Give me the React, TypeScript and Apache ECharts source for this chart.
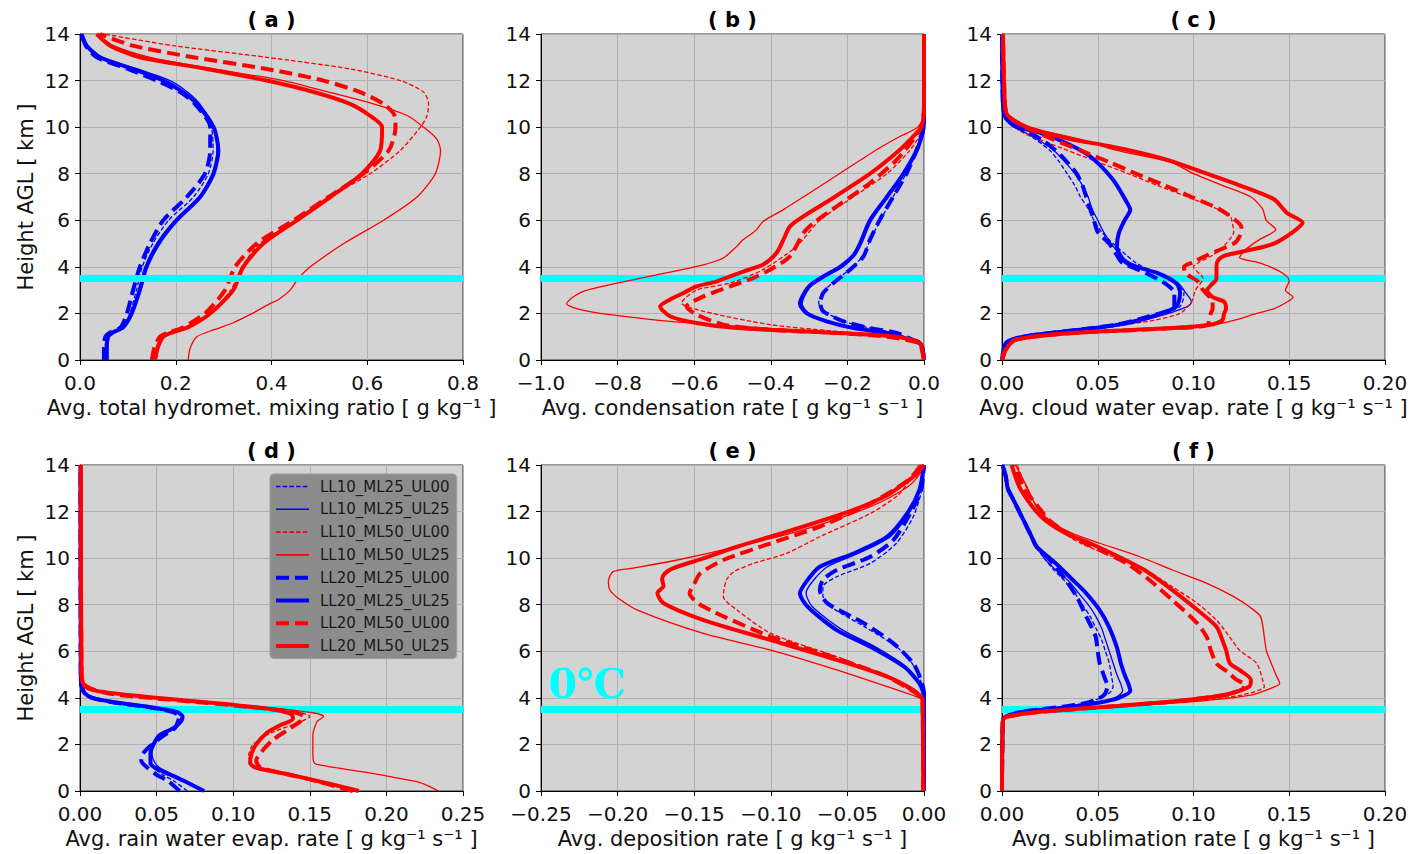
import React, { useEffect, useRef } from 'react';
import * as echarts from 'echarts';

// Each profile is a list of [height AGL (km), value] pairs, ordered by height.
type Profile = [number, number][];

const RUNS = [
  'LL10_ML25_UL00',
  'LL10_ML25_UL25',
  'LL10_ML50_UL00',
  'LL10_ML50_UL25',
  'LL20_ML25_UL00',
  'LL20_ML25_UL25',
  'LL20_ML50_UL00',
  'LL20_ML50_UL25',
];

const FREEZING_LEVEL_KM = 3.5;
const HEIGHT_TICKS = ['0', '2', '4', '6', '8', '10', '12', '14'];

const TICKS_A = ['0.0', '0.2', '0.4', '0.6', '0.8'];
const TICKS_B = ['\u22121.0', '\u22120.8', '\u22120.6', '\u22120.4', '\u22120.2', '0.0'];
const TICKS_C = ['0.00', '0.05', '0.10', '0.15', '0.20'];
const TICKS_D = ['0.00', '0.05', '0.10', '0.15', '0.20', '0.25'];
const TICKS_E = ['\u22120.25', '\u22120.20', '\u22120.15', '\u22120.10', '\u22120.05', '0.00'];
const TICKS_F = ['0.00', '0.05', '0.10', '0.15', '0.20'];

// (a) total hydrometeor mixing ratio, g/kg
const panelA: Profile[] = [
  [[0, 0.052], [1, 0.055], [1.2, 0.068], [1.4, 0.088], [2, 0.104], [3, 0.118], [4, 0.13], [5, 0.152], [6, 0.185], [7, 0.237], [8, 0.268], [9, 0.278], [10, 0.274], [11, 0.245], [11.5, 0.218], [12, 0.17], [12.5, 0.11], [13, 0.04], [13.5, 0.012], [14, 0.003]],
  [[0, 0.054], [1, 0.057], [1.2, 0.07], [1.4, 0.09], [2, 0.107], [3, 0.122], [4, 0.136], [5, 0.16], [6, 0.198], [7, 0.248], [8, 0.276], [9, 0.286], [10, 0.28], [11, 0.25], [11.5, 0.225], [12, 0.188], [12.5, 0.12], [13, 0.045], [13.5, 0.015], [14, 0.003]],
  [[0, 0.152], [0.5, 0.158], [1, 0.17], [1.2, 0.19], [1.4, 0.22], [2, 0.27], [3, 0.315], [4, 0.338], [5, 0.375], [6, 0.452], [7, 0.522], [8, 0.606], [9, 0.669], [10, 0.711], [10.5, 0.725], [11, 0.728], [11.5, 0.718], [12, 0.669], [12.5, 0.564], [13, 0.39], [13.5, 0.195], [14, 0.049]],
  [[0, 0.226], [0.5, 0.23], [1, 0.244], [1.3, 0.28], [1.6, 0.32], [2, 0.36], [2.4, 0.395], [2.6, 0.415], [3, 0.439], [3.5, 0.456], [4, 0.481], [5, 0.551], [6, 0.634], [7, 0.704], [8, 0.742], [9, 0.753], [9.5, 0.745], [10, 0.718], [10.5, 0.683], [11, 0.613], [11.5, 0.52], [12, 0.425], [12.5, 0.279], [13, 0.146], [13.5, 0.07], [14, 0.035]],
  [[0, 0.05], [0.5, 0.05], [1, 0.053], [1.2, 0.065], [1.4, 0.085], [2, 0.098], [3, 0.111], [4, 0.125], [5, 0.146], [6, 0.174], [7, 0.223], [8, 0.261], [9, 0.272], [10, 0.272], [11, 0.24], [11.5, 0.21], [12, 0.16], [12.5, 0.1], [13, 0.035], [13.5, 0.012], [14, 0.003]],
  [[0, 0.056], [0.5, 0.056], [1, 0.059], [1.2, 0.07], [1.4, 0.09], [2, 0.108], [3, 0.125], [4, 0.139], [5, 0.164], [6, 0.202], [7, 0.251], [8, 0.279], [9, 0.289], [10, 0.279], [11, 0.244], [11.5, 0.215], [12, 0.174], [12.5, 0.11], [13, 0.042], [13.5, 0.014], [14, 0.003]],
  [[0, 0.15], [0.5, 0.155], [1, 0.167], [1.2, 0.188], [1.4, 0.215], [2, 0.261], [3, 0.303], [4, 0.324], [5, 0.369], [6, 0.446], [7, 0.519], [8, 0.592], [9, 0.645], [10, 0.659], [10.5, 0.657], [11, 0.634], [11.5, 0.585], [12, 0.509], [12.5, 0.39], [13, 0.237], [13.5, 0.11], [14, 0.042]],
  [[0, 0.157], [0.5, 0.162], [1, 0.174], [1.2, 0.195], [1.4, 0.225], [2, 0.272], [3, 0.32], [4, 0.341], [5, 0.383], [6, 0.453], [7, 0.523], [8, 0.589], [9, 0.627], [10, 0.631], [10.5, 0.605], [11, 0.564], [11.5, 0.49], [12, 0.39], [12.5, 0.265], [13, 0.125], [13.5, 0.063], [14, 0.035]],
];

// (b) condensation rate, g/kg/s
const panelB: Profile[] = [
  [[0, 0], [0.5, -0.004], [0.75, -0.012], [0.9, -0.03], [1.0, -0.05], [1.16, -0.075], [1.37, -0.14], [1.66, -0.21], [2.09, -0.26], [2.45, -0.275], [2.88, -0.265], [3.3, -0.24], [3.88, -0.195], [4.45, -0.16], [5.17, -0.14], [6.03, -0.113], [7.03, -0.08], [8.03, -0.046], [9.03, -0.019], [9.75, -0.004], [10.2, 0], [14, 0]],
  [[0, 0], [0.5, -0.004], [0.75, -0.012], [0.9, -0.035], [1.15, -0.095], [1.37, -0.18], [1.66, -0.25], [2.0, -0.3], [2.4, -0.318], [2.8, -0.31], [3.2, -0.293], [3.6, -0.255], [4, -0.212], [4.5, -0.18], [5, -0.163], [6, -0.137], [7, -0.095], [8, -0.053], [9, -0.019], [9.75, -0.004], [10.3, 0], [14, 0]],
  [[0, 0], [0.5, -0.006], [0.75, -0.015], [0.9, -0.04], [1.0, -0.08], [1.23, -0.228], [1.52, -0.402], [2.09, -0.576], [2.45, -0.633], [3.0, -0.594], [3.3, -0.507], [3.88, -0.42], [4.88, -0.333], [6.0, -0.272], [7.0, -0.185], [8.0, -0.097], [9.0, -0.037], [9.75, -0.008], [10.3, -0.002], [11, 0], [14, 0]],
  [[0, 0], [0.5, -0.006], [0.73, -0.015], [0.95, -0.054], [1.09, -0.141], [1.27, -0.315], [1.45, -0.489], [1.66, -0.663], [1.95, -0.82], [2.2, -0.905], [2.42, -0.933], [2.66, -0.92], [2.95, -0.889], [3.3, -0.802], [3.66, -0.698], [4.09, -0.576], [4.38, -0.524], [4.88, -0.489], [5.17, -0.472], [5.38, -0.454], [5.6, -0.437], [5.95, -0.42], [6.46, -0.367], [7.74, -0.245], [9.03, -0.124], [9.6, -0.063], [9.96, -0.019], [10.3, -0.004], [11, 0], [14, 0]],
  [[0, 0], [0.5, -0.004], [0.75, -0.012], [0.87, -0.03], [1.16, -0.071], [1.37, -0.141], [1.66, -0.21], [2.09, -0.263], [2.45, -0.271], [2.88, -0.263], [3.3, -0.237], [3.88, -0.193], [4.45, -0.158], [5.17, -0.141], [6.03, -0.115], [7.03, -0.08], [8.03, -0.045], [9.03, -0.019], [9.75, -0.004], [10.2, 0], [14, 0]],
  [[0, 0], [0.5, -0.004], [0.73, -0.012], [0.87, -0.037], [1.16, -0.097], [1.37, -0.184], [1.66, -0.254], [2.0, -0.306], [2.42, -0.324], [2.8, -0.315], [3.2, -0.298], [3.6, -0.262], [4, -0.219], [4.5, -0.184], [5, -0.167], [6, -0.141], [7, -0.097], [8, -0.054], [9, -0.019], [9.75, -0.004], [10.2, 0], [14, 0]],
  [[0, 0], [0.5, -0.006], [0.73, -0.012], [1.0, -0.097], [1.16, -0.228], [1.3, -0.402], [1.52, -0.524], [1.95, -0.594], [2.3, -0.62], [2.73, -0.576], [3.16, -0.507], [3.52, -0.446], [3.88, -0.402], [4.45, -0.35], [5.45, -0.315], [5.88, -0.289], [6.6, -0.228], [7.6, -0.141], [8.6, -0.071], [9.46, -0.028], [9.9, -0.01], [10.4, -0.002], [11, 0], [14, 0]],
  [[0, 0], [0.5, -0.006], [0.73, -0.01], [0.95, -0.054], [1.09, -0.141], [1.23, -0.315], [1.37, -0.489], [1.59, -0.594], [1.88, -0.663], [2.3, -0.689], [2.6, -0.663], [2.88, -0.628], [3.16, -0.594], [3.38, -0.541], [3.8, -0.472], [4.1, -0.42], [4.6, -0.385], [5.17, -0.367], [5.74, -0.35], [6.17, -0.315], [6.88, -0.245], [8.0, -0.141], [9.03, -0.063], [9.75, -0.019], [10.03, -0.006], [10.5, -0.001], [11, 0], [14, 0]],
];

// (c) cloud water evaporation rate, g/kg/s
const panelC: Profile[] = [
  [[0, 0], [0.73, 0.002], [1.0, 0.011], [1.3, 0.04], [1.52, 0.06], [1.88, 0.08], [2.3, 0.093], [2.88, 0.095], [3.3, 0.09], [3.74, 0.08], [4.17, 0.07], [4.5, 0.065], [5, 0.058], [5.5, 0.052], [6, 0.048], [6.5, 0.045], [7, 0.041], [7.5, 0.038], [8, 0.034], [8.5, 0.03], [9, 0.025], [9.5, 0.017], [10, 0.007], [10.4, 0.002], [11, 0.0005], [14, 0]],
  [[0, 0], [0.73, 0.002], [1.0, 0.011], [1.3, 0.04], [1.52, 0.062], [1.88, 0.082], [2.3, 0.097], [2.5, 0.099], [2.88, 0.096], [3.3, 0.092], [3.74, 0.08], [4.17, 0.067], [4.5, 0.062], [5, 0.057], [5.5, 0.053], [6, 0.05], [6.5, 0.047], [7, 0.045], [7.5, 0.042], [8, 0.038], [8.5, 0.033], [9, 0.027], [9.5, 0.018], [10, 0.007], [10.4, 0.002], [11, 0.0005], [14, 0]],
  [[0, 0], [0.45, 0.002], [0.87, 0.007], [1.16, 0.037], [1.4, 0.055], [1.7, 0.079], [2, 0.093], [2.5, 0.099], [3.0, 0.101], [3.5, 0.105], [4.0, 0.1], [4.2, 0.103], [4.5, 0.11], [5, 0.117], [5.5, 0.121], [6.0, 0.12], [6.2, 0.119], [6.5, 0.112], [7, 0.097], [7.5, 0.081], [8, 0.066], [8.5, 0.05], [9.3, 0.025], [9.8, 0.01], [10.3, 0.003], [11, 0.001], [14, 0.0005]],
  [[0, 0], [0.45, 0.002], [0.87, 0.007], [1.16, 0.037], [1.37, 0.09], [1.5, 0.11], [1.7, 0.121], [2, 0.133], [2.2, 0.142], [2.5, 0.149], [2.7, 0.152], [3, 0.148], [3.4, 0.15], [3.7, 0.147], [4, 0.14], [4.2, 0.133], [4.4, 0.124], [4.8, 0.128], [5.2, 0.135], [5.6, 0.143], [6, 0.138], [6.5, 0.136], [7, 0.13], [7.5, 0.115], [8, 0.1], [8.5, 0.088], [9, 0.06], [9.5, 0.04], [10, 0.014], [10.5, 0.003], [11, 0.0015], [14, 0.0005]],
  [[0, 0], [0.73, 0.002], [1.0, 0.011], [1.3, 0.04], [1.52, 0.06], [1.88, 0.077], [2.3, 0.09], [2.88, 0.09], [3.3, 0.085], [3.74, 0.075], [4.17, 0.063], [4.5, 0.06], [5, 0.056], [5.5, 0.05], [6, 0.048], [6.5, 0.046], [7, 0.044], [7.5, 0.042], [8, 0.039], [8.5, 0.034], [9, 0.028], [9.5, 0.02], [10, 0.008], [10.4, 0.002], [11, 0.0005], [14, 0]],
  [[0, 0], [0.3, 0.001], [0.73, 0.002], [1.0, 0.011], [1.3, 0.041], [1.52, 0.061], [1.88, 0.079], [2.3, 0.091], [2.88, 0.093], [3.3, 0.091], [3.74, 0.081], [4.17, 0.065], [4.88, 0.06], [5.45, 0.061], [6.0, 0.064], [6.45, 0.067], [6.8, 0.065], [7.74, 0.058], [8.75, 0.046], [9.3, 0.034], [9.75, 0.02], [10.03, 0.007], [10.4, 0.002], [11, 0.0005], [14, 0]],
  [[0, 0], [0.45, 0.002], [0.87, 0.007], [1.16, 0.037], [1.37, 0.09], [1.5, 0.107], [2.0, 0.109], [2.2, 0.11], [2.5, 0.11], [3.0, 0.105], [3.4, 0.102], [3.7, 0.096], [4.0, 0.095], [4.2, 0.1], [4.5, 0.107], [5.0, 0.121], [5.3, 0.124], [5.7, 0.125], [6, 0.122], [6.5, 0.113], [7, 0.099], [7.5, 0.085], [8, 0.07], [8.5, 0.056], [9, 0.041], [9.5, 0.026], [10, 0.012], [10.5, 0.003], [11, 0.0015], [14, 0.0005]],
  [[0, 0], [0.45, 0.002], [0.87, 0.007], [1.16, 0.037], [1.37, 0.089], [1.5, 0.108], [1.7, 0.115], [2.0, 0.116], [2.2, 0.117], [2.5, 0.116], [2.7, 0.11], [3.0, 0.107], [3.2, 0.109], [3.5, 0.112], [4.0, 0.112], [4.3, 0.113], [4.5, 0.117], [4.7, 0.128], [5.0, 0.142], [5.5, 0.152], [5.9, 0.157], [6.3, 0.149], [6.9, 0.142], [7.5, 0.124], [8, 0.107], [8.5, 0.09], [8.9, 0.072], [9.2, 0.055], [9.5, 0.035], [10, 0.013], [10.5, 0.003], [11, 0.0015], [14, 0.0005]],
];

// (d) rain water evaporation rate, g/kg/s
const panelD: Profile[] = [
  [[0, 0.07], [0.4, 0.062], [0.7, 0.054], [1.0, 0.048], [1.3, 0.046], [1.6, 0.046], [2.0, 0.048], [2.4, 0.053], [2.7, 0.061], [3.0, 0.065], [3.2, 0.066], [3.4, 0.062], [3.6, 0.046], [3.8, 0.023], [4.0, 0.008], [4.2, 0.003], [4.5, 0.001], [5, 0.0005], [14, 0.0003]],
  [[0, 0.08], [0.4, 0.07], [0.7, 0.061], [1.0, 0.052], [1.2, 0.049], [1.6, 0.047], [2.0, 0.048], [2.4, 0.052], [2.7, 0.06], [3.0, 0.066], [3.2, 0.067], [3.4, 0.063], [3.6, 0.046], [3.8, 0.024], [4.0, 0.008], [4.2, 0.003], [4.5, 0.001], [5, 0.0005], [14, 0.0003]],
  [[0, 0.178], [0.5, 0.15], [1.0, 0.115], [1.5, 0.11], [2.0, 0.113], [2.5, 0.125], [3.0, 0.145], [3.2, 0.15], [3.4, 0.142], [3.6, 0.115], [3.8, 0.08], [4.0, 0.045], [4.2, 0.018], [4.5, 0.004], [5, 0.001], [14, 0.0005]],
  [[0, 0.234], [0.2, 0.228], [0.4, 0.22], [0.6, 0.204], [0.8, 0.187], [1.0, 0.167], [1.1, 0.158], [1.2, 0.153], [1.6, 0.152], [2.0, 0.152], [2.4, 0.152], [2.7, 0.153], [3.0, 0.155], [3.2, 0.159], [3.35, 0.153], [3.5, 0.135], [3.7, 0.103], [3.9, 0.07], [4.1, 0.037], [4.3, 0.012], [4.5, 0.003], [5, 0.001], [14, 0.0005]],
  [[0, 0.065], [0.4, 0.058], [0.7, 0.05], [1.0, 0.044], [1.3, 0.04], [1.6, 0.041], [2.0, 0.047], [2.4, 0.055], [2.7, 0.062], [3.0, 0.064], [3.2, 0.065], [3.4, 0.06], [3.6, 0.045], [3.8, 0.022], [4.0, 0.008], [4.2, 0.003], [4.5, 0.001], [5, 0.0005], [14, 0.0003]],
  [[0, 0.081], [0.4, 0.069], [0.7, 0.059], [1.0, 0.049], [1.2, 0.046], [1.6, 0.046], [2.0, 0.048], [2.4, 0.052], [2.7, 0.061], [3.0, 0.066], [3.2, 0.067], [3.4, 0.063], [3.6, 0.046], [3.8, 0.024], [4.0, 0.008], [4.2, 0.003], [4.5, 0.001], [5, 0.0005], [14, 0.0003]],
  [[0, 0.178], [0.5, 0.15], [1.0, 0.118], [1.3, 0.115], [1.8, 0.12], [2.2, 0.126], [2.6, 0.135], [3.0, 0.144], [3.2, 0.146], [3.4, 0.138], [3.6, 0.112], [3.8, 0.08], [4.0, 0.045], [4.2, 0.018], [4.5, 0.004], [5, 0.001], [14, 0.0005]],
  [[0, 0.182], [0.2, 0.17], [0.4, 0.157], [0.7, 0.137], [1.0, 0.115], [1.2, 0.111], [1.6, 0.112], [2.0, 0.115], [2.5, 0.122], [2.8, 0.13], [3.1, 0.139], [3.3, 0.138], [3.5, 0.126], [3.7, 0.1], [3.9, 0.067], [4.1, 0.035], [4.3, 0.011], [4.5, 0.003], [5, 0.001], [14, 0.0005]],
];

// (e) deposition rate, g/kg/s
const panelE: Profile[] = [
  [[0, 0], [4.0, 0], [4.5, -0.001], [5.0, -0.004], [5.5, -0.008], [6.2, -0.018], [7.06, -0.039], [7.92, -0.061], [8.4, -0.066], [8.77, -0.066], [9.2, -0.057], [9.78, -0.035], [10.64, -0.018], [11.78, -0.007], [12.8, -0.002], [14, 0]],
  [[0, 0], [4.0, 0], [4.6, -0.003], [5.34, -0.012], [6.2, -0.032], [6.91, -0.053], [7.92, -0.073], [8.5, -0.077], [9.06, -0.072], [9.63, -0.063], [10.2, -0.043], [10.92, -0.022], [11.92, -0.01], [12.93, -0.003], [14, 0]],
  [[0, -0.0005], [3.9, -0.001], [4.1, -0.004], [4.91, -0.024], [5.77, -0.057], [6.77, -0.1], [7.77, -0.122], [8.35, -0.131], [9.06, -0.129], [9.42, -0.124], [9.78, -0.111], [10.2, -0.09], [10.92, -0.068], [11.92, -0.035], [12.7, -0.017], [13.36, -0.009], [14, -0.002]],
  [[0, -0.0005], [3.9, -0.001], [4.05, -0.005], [4.48, -0.024], [5.2, -0.057], [6.05, -0.1], [6.77, -0.144], [7.77, -0.187], [8.3, -0.2], [8.63, -0.205], [9.0, -0.206], [9.42, -0.203], [9.56, -0.191], [9.92, -0.161], [10.49, -0.122], [11.21, -0.079], [12.21, -0.035], [13.0, -0.012], [13.5, -0.004], [14, 0]],
  [[0, 0], [4.2, 0], [4.77, -0.002], [5.48, -0.007], [6.34, -0.02], [7.2, -0.039], [8.06, -0.063], [8.63, -0.068], [9.06, -0.066], [9.49, -0.057], [10.06, -0.035], [10.78, -0.02], [11.92, -0.009], [12.9, -0.002], [14, 0]],
  [[0, 0], [4.05, 0], [4.62, -0.003], [5.34, -0.013], [6.2, -0.035], [6.91, -0.057], [7.92, -0.076], [8.49, -0.081], [9.06, -0.076], [9.63, -0.068], [10.2, -0.046], [10.92, -0.024], [11.92, -0.011], [12.93, -0.003], [14, 0]],
  [[0, -0.0005], [3.9, -0.001], [4.1, -0.003], [4.91, -0.024], [5.7, -0.057], [6.63, -0.1], [7.92, -0.144], [8.49, -0.153], [8.9, -0.15], [9.35, -0.146], [9.92, -0.131], [10.64, -0.1], [11.35, -0.068], [12.35, -0.035], [13.36, -0.01], [14, -0.002]],
  [[0, -0.0005], [3.9, -0.001], [4.05, -0.002], [4.34, -0.007], [4.91, -0.024], [5.63, -0.057], [6.48, -0.1], [7.34, -0.144], [8.06, -0.17], [8.5, -0.174], [8.8, -0.17], [9.1, -0.171], [9.35, -0.169], [9.56, -0.164], [9.99, -0.144], [10.49, -0.122], [11.35, -0.079], [12.07, -0.046], [12.7, -0.024], [13.2, -0.013], [13.6, -0.005], [14, 0]],
];

// (f) sublimation rate, g/kg/s
const panelF: Profile[] = [
  [[0, 0], [3.05, 0.0005], [3.2, 0.002], [3.4, 0.01], [3.6, 0.03], [3.8, 0.045], [4.2, 0.056], [4.5, 0.058], [5, 0.057], [5.5, 0.056], [6, 0.054], [6.5, 0.052], [7, 0.049], [7.5, 0.046], [8, 0.042], [8.5, 0.038], [9, 0.033], [9.5, 0.027], [10, 0.022], [10.5, 0.018], [11, 0.015], [11.5, 0.012], [12, 0.009], [12.5, 0.006], [13, 0.003], [13.5, 0.002], [14, 0.0003]],
  [[0, 0], [3.05, 0.0005], [3.2, 0.002], [3.4, 0.011], [3.6, 0.033], [3.8, 0.05], [4.0, 0.059], [4.3, 0.063], [4.6, 0.062], [5, 0.06], [5.5, 0.058], [6, 0.056], [6.5, 0.054], [7, 0.052], [7.5, 0.049], [8, 0.045], [8.5, 0.04], [9, 0.035], [9.5, 0.028], [10, 0.022], [10.5, 0.018], [11, 0.015], [11.5, 0.012], [12, 0.009], [12.5, 0.006], [13, 0.003], [13.5, 0.002], [14, 0.0003]],
  [[0, 0], [3.05, 0.0005], [3.2, 0.003], [3.4, 0.02], [3.62, 0.058], [3.84, 0.095], [4.12, 0.125], [4.48, 0.137], [4.8, 0.136], [5.48, 0.133], [6.05, 0.124], [6.6, 0.119], [7.34, 0.112], [8.06, 0.102], [8.77, 0.089], [9.49, 0.075], [10.06, 0.058], [10.64, 0.041], [11.2, 0.03], [11.78, 0.023], [12.5, 0.016], [13.36, 0.011], [14, 0.008]],
  [[0, 0], [3.05, 0.0005], [3.2, 0.003], [3.4, 0.02], [3.62, 0.06], [3.84, 0.1], [4.12, 0.13], [4.4, 0.14], [4.62, 0.145], [5.0, 0.143], [5.6, 0.14], [6.05, 0.138], [6.6, 0.137], [7.49, 0.135], [7.92, 0.129], [8.35, 0.121], [8.92, 0.107], [9.49, 0.089], [10.06, 0.072], [10.64, 0.051], [11.05, 0.037], [11.6, 0.025], [12.2, 0.018], [13.07, 0.013], [14, 0.007]],
  [[0, 0], [3.05, 0.0005], [3.2, 0.002], [3.4, 0.01], [3.6, 0.03], [3.8, 0.045], [4.1, 0.053], [4.48, 0.055], [5.0, 0.053], [5.48, 0.051], [6.0, 0.05], [6.6, 0.049], [7.0, 0.047], [7.49, 0.044], [8.35, 0.039], [9.2, 0.032], [9.92, 0.025], [10.5, 0.018], [11, 0.015], [11.5, 0.012], [12, 0.009], [12.5, 0.006], [13, 0.003], [13.5, 0.002], [14, 0.0003]],
  [[0, 0], [3.05, 0.0005], [3.2, 0.002], [3.4, 0.011], [3.6, 0.034], [3.8, 0.051], [4.0, 0.061], [4.3, 0.067], [4.6, 0.066], [5.0, 0.064], [5.5, 0.062], [6.17, 0.06], [7.03, 0.056], [7.77, 0.051], [8.49, 0.044], [9.06, 0.037], [9.78, 0.028], [10.2, 0.022], [10.5, 0.018], [11, 0.015], [11.5, 0.012], [12, 0.009], [12.5, 0.006], [13, 0.003], [13.5, 0.002], [14, 0.0003]],
  [[0, 0], [3.05, 0.0005], [3.2, 0.003], [3.4, 0.02], [3.62, 0.055], [3.84, 0.089], [4.12, 0.116], [4.35, 0.125], [4.55, 0.127], [4.8, 0.122], [5.1, 0.118], [5.48, 0.112], [6.05, 0.109], [6.6, 0.107], [7.2, 0.102], [8.2, 0.089], [9.06, 0.077], [9.78, 0.065], [10.35, 0.051], [10.92, 0.037], [11.6, 0.025], [12.2, 0.019], [13.07, 0.011], [14, 0.007]],
  [[0, 0], [3.05, 0.0005], [3.2, 0.003], [3.4, 0.02], [3.62, 0.055], [3.84, 0.089], [4.12, 0.116], [4.48, 0.129], [4.77, 0.13], [5.2, 0.124], [5.48, 0.119], [6.05, 0.117], [6.5, 0.115], [7.06, 0.112], [7.91, 0.1], [8.63, 0.089], [9.46, 0.075], [10.06, 0.061], [10.64, 0.046], [11.04, 0.034], [11.6, 0.023], [12.2, 0.016], [13.07, 0.009], [14, 0.005]],
];

const FONT = '"DejaVu Sans", "Liberation Sans", sans-serif';
const FS = 21;
const TICK_FS = 20;
const BLUE = '#0000ff';
const RED = '#ff0000';
const CYAN = '#00ffff';

// Line look for each run: colour by ML, width by LL, dash by UL
function runLine(i: number) {
  const color = i % 4 < 2 ? BLUE : RED;
  const thick = i >= 4;
  const dashed = i % 2 === 0;
  return {
    color,
    width: thick ? 4 : 1.3,
    type: dashed ? (thick ? [13, 6] : [4.5, 2.2]) : 'solid',
  } as any;
}

interface PanelCfg {
  key: string;
  left: number;
  top: number;
  xMin: number;
  xMax: number;
  step: number;
  ticks: string[];
  xName: string;
  showYName: boolean;
  bandOnTop: boolean;
  profiles: Profile[];
}

const PW = 383;
const PH = 326;

const PANELS: PanelCfg[] = [
  { key: 'a', left: 80, top: 34, xMin: 0, xMax: 0.8, step: 0.2, ticks: TICKS_A, xName: 'Avg. total hydromet. mixing ratio [ g kg\u207B\u00B9 ]', showYName: true, bandOnTop: true, profiles: panelA },
  { key: 'b', left: 541, top: 34, xMin: -1, xMax: 0, step: 0.2, ticks: TICKS_B, xName: 'Avg. condensation rate [ g kg\u207B\u00B9 s\u207B\u00B9 ]', showYName: false, bandOnTop: false, profiles: panelB },
  { key: 'c', left: 1002, top: 34, xMin: 0, xMax: 0.2, step: 0.05, ticks: TICKS_C, xName: 'Avg. cloud water evap. rate [ g kg\u207B\u00B9 s\u207B\u00B9 ]', showYName: false, bandOnTop: false, profiles: panelC },
  { key: 'd', left: 80, top: 465, xMin: 0, xMax: 0.25, step: 0.05, ticks: TICKS_D, xName: 'Avg. rain water evap. rate [ g kg\u207B\u00B9 s\u207B\u00B9 ]', showYName: true, bandOnTop: false, profiles: panelD },
  { key: 'e', left: 541, top: 465, xMin: -0.25, xMax: 0, step: 0.05, ticks: TICKS_E, xName: 'Avg. deposition rate [ g kg\u207B\u00B9 s\u207B\u00B9 ]', showYName: false, bandOnTop: false, profiles: panelE },
  { key: 'f', left: 1002, top: 465, xMin: 0, xMax: 0.2, step: 0.05, ticks: TICKS_F, xName: 'Avg. sublimation rate [ g kg\u207B\u00B9 s\u207B\u00B9 ]', showYName: false, bandOnTop: false, profiles: panelF },
];

function buildOption() {
  const grid: any[] = [];
  const xAxis: any[] = [];
  const yAxis: any[] = [];
  const series: any[] = [];
  const graphic: any[] = [];

  PANELS.forEach((p, gi) => {
    grid.push({
      left: p.left,
      top: p.top,
      width: PW,
      height: PH,
      show: true,
      backgroundColor: '#d3d3d3',
      borderColor: '#333',
      borderWidth: 1,
    });
    xAxis.push({
      type: 'value',
      gridIndex: gi,
      min: p.xMin,
      max: p.xMax,
      interval: p.step,
      name: p.xName,
      nameLocation: 'middle',
      nameGap: 37,
      nameTextStyle: { fontFamily: FONT, fontSize: FS, color: '#111' },
      axisLine: { show: true, onZero: false, lineStyle: { color: '#000', width: 1 } },
      axisTick: { show: true, inside: false, length: 5, lineStyle: { color: '#000' } },
      axisLabel: {
        margin: 16,
        fontFamily: FONT,
        fontSize: TICK_FS,
        lineHeight: 14,
        color: '#111',
        formatter: (_v: number, idx: number) => p.ticks[idx] ?? '',
      },
      splitLine: { show: true, lineStyle: { color: '#b0b0b0', width: 1 } },
    });
    yAxis.push({
      type: 'value',
      gridIndex: gi,
      min: 0,
      max: 14,
      interval: 2,
      name: p.showYName ? 'Height AGL [ km ]' : '',
      nameLocation: 'middle',
      nameGap: 44,
      nameTextStyle: { fontFamily: FONT, fontSize: FS, color: '#111' },
      axisLine: { show: true, onZero: false, lineStyle: { color: '#000', width: 1 } },
      axisTick: { show: true, inside: false, length: 5, lineStyle: { color: '#000' } },
      axisLabel: {
        margin: 10,
        fontFamily: FONT,
        fontSize: TICK_FS,
        lineHeight: 14,
        color: '#111',
        formatter: (_v: number, idx: number) => HEIGHT_TICKS[idx] ?? '',
      },
      splitLine: { show: true, lineStyle: { color: '#b0b0b0', width: 1 } },
    });

    p.profiles.forEach((prof, ri) => {
      series.push({
        type: 'line',
        name: RUNS[ri],
        xAxisIndex: gi,
        yAxisIndex: gi,
        data: prof.map(([h, v]) => [v, h]),
        symbol: 'none',
        smooth: 0.25,
        lineStyle: runLine(ri),
        itemStyle: { color: runLine(ri).color },
        z: 2,
        silent: true,
      });
    });

    // 0 °C level
    series.push({
      type: 'line',
      name: '0\u2103 level',
      xAxisIndex: gi,
      yAxisIndex: gi,
      data: [
        [p.xMin, FREEZING_LEVEL_KM],
        [p.xMax, FREEZING_LEVEL_KM],
      ],
      symbol: 'none',
      lineStyle: { color: CYAN, width: 7 },
      z: p.bandOnTop ? 3 : 1,
      silent: true,
    });

    graphic.push({
      type: 'text',
      x: p.left + PW / 2,
      y: p.top - 14,
      style: {
        text: `( ${p.key} )`,
        font: `bold ${FS}px ${FONT}`,
        fill: '#000',
        textAlign: 'center',
        textVerticalAlign: 'middle',
      },
    });
  });

  graphic.push({
    type: 'text',
    x: 548,
    y: 684,
    z: 50,
    style: {
      text: '0\u2103',
      font: 'bold 41px "DejaVu Serif", serif',
      fill: CYAN,
      textAlign: 'left',
      textVerticalAlign: 'middle',
      shadowColor: 'rgba(0,0,0,0.35)',
      shadowBlur: 3,
      shadowOffsetX: 2,
      shadowOffsetY: 2,
    },
  });

  return {
    animation: false,
    backgroundColor: '#ffffff',
    grid,
    xAxis,
    yAxis,
    series,
    graphic,
    legend: {
      data: RUNS.map((name, i) => {
        const ls = runLine(i);
        return {
          name,
          lineStyle: { color: ls.color, width: ls.width === 4 ? 4 : 1.6, type: ls.type },
          itemStyle: { opacity: 0 },
        };
      }),
      orient: 'vertical',
      left: 270,
      top: 474,
      itemWidth: 33,
      itemHeight: 14,
      itemGap: 7.8,
      padding: [5, 7, 5, 4],
      backgroundColor: '#8c8c8c',
      borderColor: '#9a9a9a',
      borderWidth: 1,
      borderRadius: 4,
      selectedMode: false,
      textStyle: { fontFamily: FONT, fontSize: 15, color: '#1a1a1a', padding: [0, 0, 0, 6] },
      z: 10,
    },
  };
}

export default function App() {
  const ref = useRef<HTMLDivElement>(null);

  useEffect(() => {
    if (!ref.current) return;
    const chart = echarts.init(ref.current, undefined, { renderer: 'svg' });
    chart.setOption(buildOption() as any);
    return () => chart.dispose();
  }, []);

  return (
    <div
      ref={ref}
      style={{ position: 'fixed', left: 0, top: 0, width: 1420, height: 854, background: '#fff' }}
    />
  );
}
